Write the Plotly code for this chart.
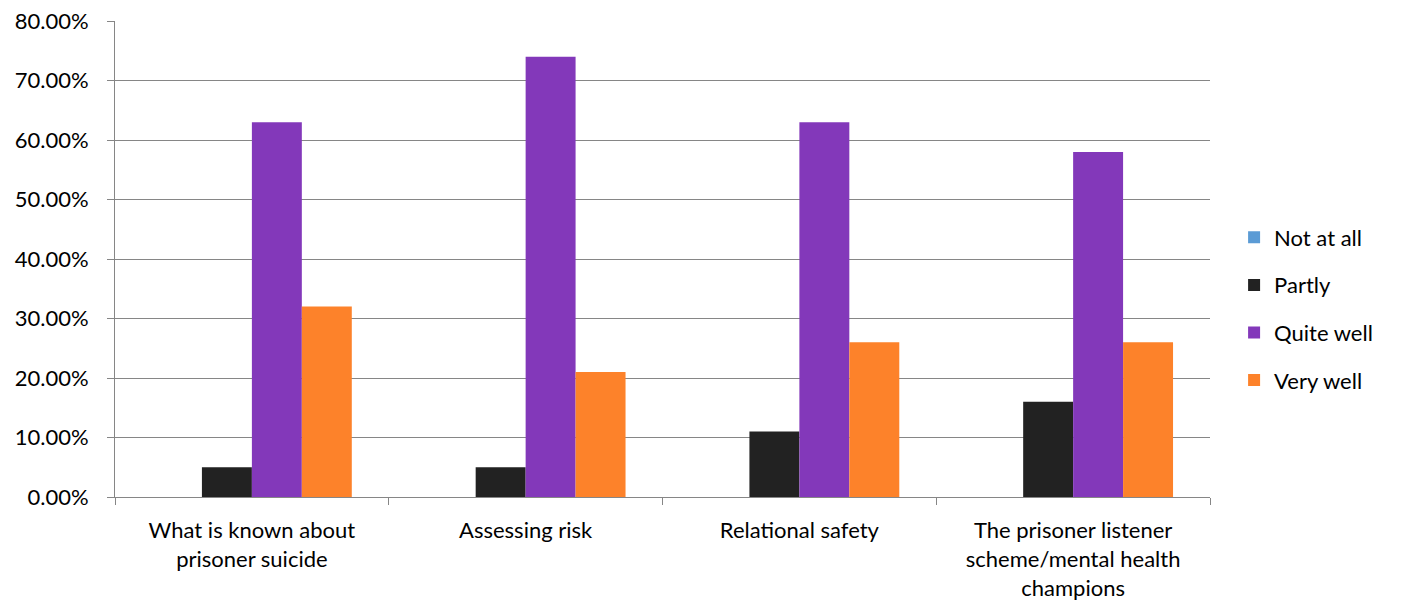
import plotly.graph_objects as go

categories = [
    "What is known about<br>prisoner suicide",
    "Assessing risk",
    "Relational safety",
    "The prisoner listener<br>scheme/mental health<br>champions",
]
series_names = ["Not at all", "Partly", "Quite well", "Very well"]
not_at_all = [0.0, 0.0, 0.0, 0.0]
partly = [0.05, 0.05, 0.11, 0.16]
quite_well = [0.63, 0.74, 0.63, 0.58]
very_well = [0.32, 0.21, 0.26, 0.26]
colors = ["#5B9BD5", "#222222", "#8338BA", "#FD822A"]

fig = go.Figure()
for i, (name, vals) in enumerate(zip(series_names, [not_at_all, partly, quite_well, very_well])):
    fig.add_trace(go.Bar(
        x=categories, y=vals, name=name, marker_color=colors[i],
        marker_line_width=0, legendgroup=name,
    ))

font = "Lato, 'Open Sans', sans-serif"
fig.update_layout(
    width=1402, height=610,
    barmode="group", bargap=0.27, bargroupgap=0,
    plot_bgcolor="white", paper_bgcolor="white",
    margin=dict(l=107, r=200, t=13, b=121),
    font=dict(family=font, size=22, color="#000000"),
    legend=dict(
        x=1.022, xanchor="left", y=0.395, yanchor="middle",
        font=dict(size=22), tracegroupgap=16, itemwidth=30,
    ),
    xaxis=dict(
        showline=True, linecolor="#868686", linewidth=1,
        ticks="outside", tickson="boundaries", ticklen=7, tickcolor="#868686",
        showgrid=False, ticklabelstandoff=14, automargin=False,
    ),
    yaxis=dict(
        range=[0, 0.8], tickmode="array",
        tickvals=[0, 0.1, 0.2, 0.3, 0.4, 0.5, 0.6, 0.7, 0.8],
        tickformat=".2%", ticklabeloverflow="allow",
        showline=True, linecolor="#868686", linewidth=1,
        ticks="outside", ticklen=7, tickcolor="#868686",
        showgrid=True, gridcolor="#868686", gridwidth=1,
        zeroline=False, ticklabelstandoff=14, automargin=False,
    ),
)

fig.write_html("out.html")
